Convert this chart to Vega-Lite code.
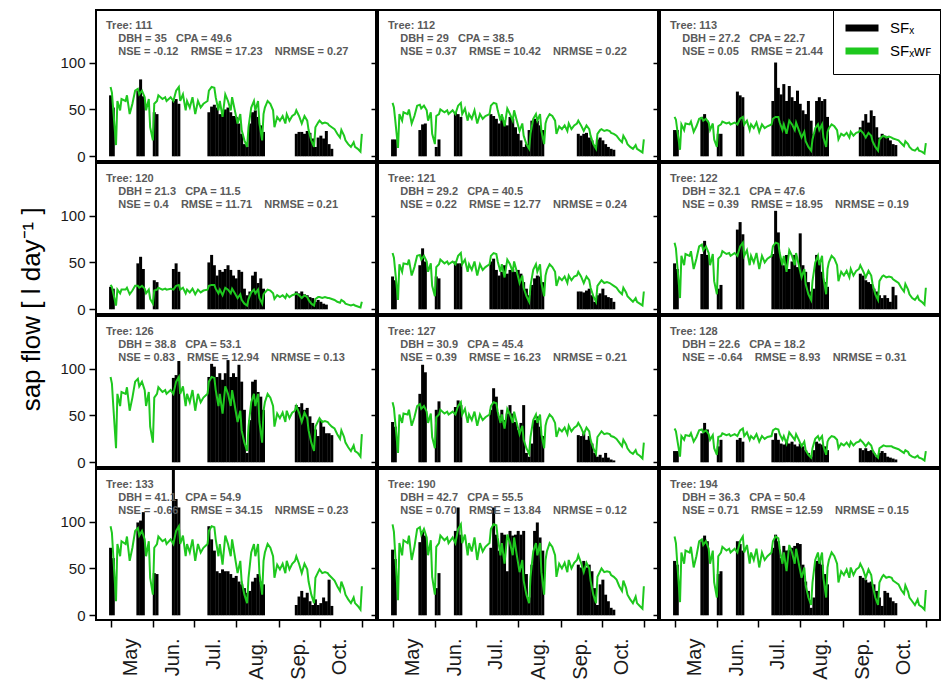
{
"$schema":"https://vega.github.io/schema/vega-lite/v6.json",
"background":"white",
"padding":{"left":18,"top":8,"right":0,"bottom":4},
"title":{"text":"sap flow [ l day\u207b\u00b9 ]","orient":"left","anchor":"middle","frame":"bounds","offset":14,"dx":35,"fontSize":26,"fontWeight":"normal","color":"black","font":"Liberation Sans"},
"bounds":"flush",
"spacing":2,
"columns":3,
"resolve":{"scale":{"color":"independent"},"legend":{"color":"independent"}},
"datasets":{
"t111":[{"d":0,"g":74},{"d":1,"g":68},{"d":2,"g":49},{"d":4,"g":12},{"d":5,"g":59},{"d":7,"g":49},{"d":8,"g":61},{"d":11,"g":59},{"d":12,"g":65},{"d":14,"g":45},{"d":16,"g":56},{"d":18,"g":70},{"d":20,"g":72},{"d":21,"g":66},{"d":23,"g":70},{"d":25,"g":63},{"d":26,"g":49},{"d":28,"g":61},{"d":29,"g":31},{"d":31,"g":17},{"d":32,"g":56},{"d":34,"g":59},{"d":35,"g":65},{"d":38,"g":61},{"d":40,"g":63},{"d":41,"g":59},{"d":44,"g":63},{"d":46,"g":59},{"d":48,"g":70},{"d":50,"g":74},{"d":51,"g":59},{"d":53,"g":66},{"d":55,"g":49},{"d":56,"g":59},{"d":58,"g":52},{"d":60,"g":63},{"d":62,"g":45},{"d":64,"g":59},{"d":66,"g":52},{"d":68,"g":56},{"d":71,"g":59},{"d":72,"g":70},{"d":74,"g":74},{"d":76,"g":73},{"d":77,"g":63},{"d":79,"g":49},{"d":80,"g":59},{"d":82,"g":42},{"d":84,"g":66},{"d":86,"g":59},{"d":88,"g":49},{"d":89,"g":63},{"d":91,"g":49},{"d":93,"g":35},{"d":95,"g":45},{"d":96,"g":28},{"d":98,"g":17},{"d":100,"g":10},{"d":101,"g":31},{"d":103,"g":52},{"d":105,"g":59},{"d":106,"g":49},{"d":108,"g":59},{"d":109,"g":35},{"d":111,"g":17},{"d":112,"g":45},{"d":113,"g":52},{"d":115,"g":59},{"d":117,"g":56},{"d":119,"g":49},{"d":120,"g":31},{"d":122,"g":42},{"d":124,"g":38},{"d":126,"g":43},{"d":128,"g":35},{"d":129,"g":45},{"d":131,"g":38},{"d":133,"g":43},{"d":135,"g":45},{"d":136,"g":49},{"d":138,"g":43},{"d":140,"g":35},{"d":142,"g":43},{"d":144,"g":38},{"d":145,"g":28},{"d":147,"g":17},{"d":149,"g":10},{"d":150,"g":31},{"d":152,"g":36},{"d":153,"g":38},{"d":155,"g":35},{"d":157,"g":36},{"d":159,"g":35},{"d":160,"g":33},{"d":162,"g":31},{"d":164,"g":29},{"d":166,"g":24},{"d":168,"g":20},{"d":169,"g":28},{"d":171,"g":22},{"d":172,"g":17},{"d":174,"g":13},{"d":176,"g":10},{"d":178,"g":15},{"d":179,"g":10},{"d":181,"g":8},{"d":183,"g":5},{"d":184,"g":24},
{"d":0,"b":65},{"d":2,"b":52},{"d":20,"b":70},{"d":22,"b":82},{"d":24,"b":64},{"d":32,"b":47},{"d":34,"b":45},{"d":46,"b":59},{"d":48,"b":61},{"d":50,"b":56},{"d":72,"b":47},{"d":74,"b":53},{"d":76,"b":55},{"d":78,"b":52},{"d":80,"b":45},{"d":82,"b":47},{"d":84,"b":50},{"d":86,"b":52},{"d":88,"b":47},{"d":90,"b":43},{"d":92,"b":42},{"d":94,"b":35},{"d":96,"b":24},{"d":98,"b":13},{"d":100,"b":10},{"d":102,"b":35},{"d":104,"b":47},{"d":106,"b":49},{"d":108,"b":42},{"d":110,"b":33},{"d":112,"b":26},{"d":136,"b":24},{"d":138,"b":26},{"d":140,"b":26},{"d":142,"b":24},{"d":144,"b":27},{"d":146,"b":25},{"d":148,"b":19},{"d":150,"b":10},{"d":152,"b":20},{"d":154,"b":22},{"d":156,"b":19},{"d":158,"b":27},{"d":160,"b":13},{"d":162,"b":8}],
"t112":[{"d":0,"g":57},{"d":1,"g":52},{"d":2,"g":38},{"d":4,"g":9},{"d":5,"g":45},{"d":7,"g":38},{"d":8,"g":47},{"d":11,"g":45},{"d":12,"g":50},{"d":14,"g":35},{"d":16,"g":43},{"d":18,"g":54},{"d":20,"g":55},{"d":21,"g":51},{"d":23,"g":54},{"d":25,"g":49},{"d":26,"g":38},{"d":28,"g":47},{"d":29,"g":24},{"d":31,"g":13},{"d":32,"g":43},{"d":34,"g":45},{"d":35,"g":50},{"d":38,"g":47},{"d":40,"g":49},{"d":41,"g":45},{"d":44,"g":49},{"d":46,"g":45},{"d":48,"g":54},{"d":50,"g":57},{"d":51,"g":45},{"d":53,"g":51},{"d":55,"g":38},{"d":56,"g":45},{"d":58,"g":40},{"d":60,"g":49},{"d":62,"g":35},{"d":64,"g":45},{"d":66,"g":40},{"d":68,"g":43},{"d":71,"g":45},{"d":72,"g":54},{"d":74,"g":57},{"d":76,"g":56},{"d":77,"g":49},{"d":79,"g":38},{"d":80,"g":45},{"d":82,"g":32},{"d":84,"g":51},{"d":86,"g":45},{"d":88,"g":38},{"d":89,"g":49},{"d":91,"g":38},{"d":93,"g":27},{"d":95,"g":35},{"d":96,"g":22},{"d":98,"g":13},{"d":100,"g":8},{"d":101,"g":24},{"d":103,"g":40},{"d":105,"g":45},{"d":106,"g":38},{"d":108,"g":45},{"d":109,"g":27},{"d":111,"g":13},{"d":112,"g":35},{"d":113,"g":40},{"d":115,"g":45},{"d":117,"g":43},{"d":119,"g":38},{"d":120,"g":24},{"d":122,"g":32},{"d":124,"g":29},{"d":126,"g":33},{"d":128,"g":27},{"d":129,"g":35},{"d":131,"g":29},{"d":133,"g":33},{"d":135,"g":35},{"d":136,"g":38},{"d":138,"g":33},{"d":140,"g":27},{"d":142,"g":33},{"d":144,"g":29},{"d":145,"g":22},{"d":147,"g":13},{"d":149,"g":8},{"d":150,"g":24},{"d":152,"g":28},{"d":153,"g":29},{"d":155,"g":27},{"d":157,"g":28},{"d":159,"g":27},{"d":160,"g":25},{"d":162,"g":24},{"d":164,"g":22},{"d":166,"g":18},{"d":168,"g":15},{"d":169,"g":22},{"d":171,"g":17},{"d":172,"g":13},{"d":174,"g":10},{"d":176,"g":8},{"d":178,"g":12},{"d":179,"g":8},{"d":181,"g":6},{"d":183,"g":4},{"d":184,"g":18},
{"d":0,"b":18},{"d":2,"b":18},{"d":20,"b":28},{"d":22,"b":34},{"d":24,"b":35},{"d":32,"b":10},{"d":34,"b":18},{"d":46,"b":47},{"d":48,"b":45},{"d":50,"b":42},{"d":72,"b":45},{"d":74,"b":43},{"d":76,"b":40},{"d":78,"b":35},{"d":80,"b":42},{"d":82,"b":38},{"d":84,"b":33},{"d":86,"b":42},{"d":88,"b":40},{"d":90,"b":31},{"d":92,"b":24},{"d":94,"b":17},{"d":96,"b":10},{"d":98,"b":13},{"d":100,"b":28},{"d":102,"b":38},{"d":104,"b":40},{"d":106,"b":38},{"d":108,"b":33},{"d":110,"b":28},{"d":136,"b":24},{"d":138,"b":22},{"d":140,"b":24},{"d":142,"b":25},{"d":144,"b":20},{"d":146,"b":17},{"d":148,"b":12},{"d":150,"b":18},{"d":152,"b":20},{"d":154,"b":17},{"d":156,"b":13},{"d":158,"b":10},{"d":160,"b":8},{"d":162,"b":7}],
"t113":[{"d":0,"g":42},{"d":1,"g":39},{"d":2,"g":28},{"d":4,"g":7},{"d":5,"g":34},{"d":7,"g":28},{"d":8,"g":35},{"d":11,"g":34},{"d":12,"g":37},{"d":14,"g":26},{"d":16,"g":32},{"d":18,"g":40},{"d":20,"g":41},{"d":21,"g":38},{"d":23,"g":40},{"d":25,"g":36},{"d":26,"g":28},{"d":28,"g":35},{"d":29,"g":18},{"d":31,"g":10},{"d":32,"g":32},{"d":34,"g":34},{"d":35,"g":37},{"d":38,"g":35},{"d":40,"g":36},{"d":41,"g":34},{"d":44,"g":36},{"d":46,"g":34},{"d":48,"g":40},{"d":50,"g":42},{"d":51,"g":34},{"d":53,"g":38},{"d":55,"g":28},{"d":56,"g":34},{"d":58,"g":30},{"d":60,"g":36},{"d":62,"g":26},{"d":64,"g":34},{"d":66,"g":30},{"d":68,"g":32},{"d":71,"g":34},{"d":72,"g":40},{"d":74,"g":42},{"d":76,"g":42},{"d":77,"g":36},{"d":79,"g":28},{"d":80,"g":34},{"d":82,"g":24},{"d":84,"g":38},{"d":86,"g":34},{"d":88,"g":28},{"d":89,"g":36},{"d":91,"g":28},{"d":93,"g":20},{"d":95,"g":26},{"d":96,"g":16},{"d":98,"g":10},{"d":100,"g":6},{"d":101,"g":18},{"d":103,"g":30},{"d":105,"g":34},{"d":106,"g":28},{"d":108,"g":34},{"d":109,"g":20},{"d":111,"g":10},{"d":112,"g":26},{"d":113,"g":30},{"d":115,"g":34},{"d":117,"g":32},{"d":119,"g":28},{"d":120,"g":18},{"d":122,"g":24},{"d":124,"g":22},{"d":126,"g":25},{"d":128,"g":20},{"d":129,"g":26},{"d":131,"g":22},{"d":133,"g":25},{"d":135,"g":26},{"d":136,"g":28},{"d":138,"g":25},{"d":140,"g":20},{"d":142,"g":25},{"d":144,"g":22},{"d":145,"g":16},{"d":147,"g":10},{"d":149,"g":6},{"d":150,"g":18},{"d":152,"g":21},{"d":153,"g":22},{"d":155,"g":20},{"d":157,"g":21},{"d":159,"g":20},{"d":160,"g":19},{"d":162,"g":18},{"d":164,"g":17},{"d":166,"g":14},{"d":168,"g":11},{"d":169,"g":16},{"d":171,"g":13},{"d":172,"g":10},{"d":174,"g":7},{"d":176,"g":6},{"d":178,"g":9},{"d":179,"g":6},{"d":181,"g":5},{"d":183,"g":3},{"d":184,"g":14},
{"d":0,"b":28},{"d":2,"b":28},{"d":20,"b":42},{"d":22,"b":45},{"d":24,"b":38},{"d":32,"b":24},{"d":34,"b":24},{"d":46,"b":69},{"d":48,"b":65},{"d":50,"b":63},{"d":72,"b":59},{"d":74,"b":100},{"d":76,"b":73},{"d":78,"b":66},{"d":80,"b":77},{"d":82,"b":59},{"d":84,"b":75},{"d":86,"b":63},{"d":88,"b":59},{"d":90,"b":70},{"d":92,"b":56},{"d":94,"b":49},{"d":96,"b":45},{"d":98,"b":59},{"d":100,"b":38},{"d":102,"b":24},{"d":104,"b":59},{"d":106,"b":63},{"d":108,"b":59},{"d":110,"b":61},{"d":112,"b":42},{"d":136,"b":31},{"d":138,"b":38},{"d":140,"b":45},{"d":142,"b":36},{"d":144,"b":49},{"d":146,"b":43},{"d":148,"b":31},{"d":150,"b":20},{"d":152,"b":24},{"d":154,"b":22},{"d":156,"b":20},{"d":158,"b":17},{"d":160,"b":13},{"d":162,"b":12}],
"t120":[{"d":0,"g":26},{"d":1,"g":24},{"d":2,"g":17},{"d":4,"g":4},{"d":5,"g":21},{"d":7,"g":17},{"d":8,"g":21},{"d":11,"g":21},{"d":12,"g":23},{"d":14,"g":16},{"d":16,"g":20},{"d":18,"g":25},{"d":20,"g":25},{"d":21,"g":23},{"d":23,"g":25},{"d":25,"g":22},{"d":26,"g":17},{"d":28,"g":21},{"d":29,"g":11},{"d":31,"g":6},{"d":32,"g":20},{"d":34,"g":21},{"d":35,"g":23},{"d":38,"g":21},{"d":40,"g":22},{"d":41,"g":21},{"d":44,"g":22},{"d":46,"g":21},{"d":48,"g":25},{"d":50,"g":26},{"d":51,"g":21},{"d":53,"g":23},{"d":55,"g":17},{"d":56,"g":21},{"d":58,"g":18},{"d":60,"g":22},{"d":62,"g":16},{"d":64,"g":21},{"d":66,"g":18},{"d":68,"g":20},{"d":71,"g":21},{"d":72,"g":25},{"d":74,"g":26},{"d":76,"g":26},{"d":77,"g":22},{"d":79,"g":17},{"d":80,"g":21},{"d":82,"g":15},{"d":84,"g":23},{"d":86,"g":21},{"d":88,"g":17},{"d":89,"g":22},{"d":91,"g":17},{"d":93,"g":12},{"d":95,"g":16},{"d":96,"g":10},{"d":98,"g":6},{"d":100,"g":4},{"d":101,"g":11},{"d":103,"g":18},{"d":105,"g":21},{"d":106,"g":17},{"d":108,"g":21},{"d":109,"g":12},{"d":111,"g":6},{"d":112,"g":16},{"d":113,"g":18},{"d":115,"g":21},{"d":117,"g":20},{"d":119,"g":17},{"d":120,"g":11},{"d":122,"g":15},{"d":124,"g":13},{"d":126,"g":15},{"d":128,"g":12},{"d":129,"g":16},{"d":131,"g":13},{"d":133,"g":15},{"d":135,"g":16},{"d":136,"g":17},{"d":138,"g":15},{"d":140,"g":12},{"d":142,"g":15},{"d":144,"g":13},{"d":145,"g":10},{"d":147,"g":6},{"d":149,"g":4},{"d":150,"g":11},{"d":152,"g":13},{"d":153,"g":13},{"d":155,"g":12},{"d":157,"g":13},{"d":159,"g":12},{"d":160,"g":12},{"d":162,"g":11},{"d":164,"g":10},{"d":166,"g":8},{"d":168,"g":7},{"d":169,"g":10},{"d":171,"g":8},{"d":172,"g":6},{"d":174,"g":5},{"d":176,"g":4},{"d":178,"g":5},{"d":179,"g":4},{"d":181,"g":3},{"d":183,"g":2},{"d":184,"g":8},
{"d":0,"b":24},{"d":2,"b":22},{"d":20,"b":49},{"d":22,"b":56},{"d":24,"b":43},{"d":32,"b":31},{"d":34,"b":29},{"d":46,"b":43},{"d":48,"b":49},{"d":50,"b":40},{"d":72,"b":50},{"d":74,"b":58},{"d":76,"b":47},{"d":78,"b":36},{"d":80,"b":42},{"d":82,"b":40},{"d":84,"b":43},{"d":86,"b":47},{"d":88,"b":42},{"d":90,"b":36},{"d":92,"b":33},{"d":94,"b":42},{"d":96,"b":40},{"d":98,"b":22},{"d":100,"b":15},{"d":102,"b":19},{"d":104,"b":36},{"d":106,"b":40},{"d":108,"b":28},{"d":110,"b":33},{"d":112,"b":22},{"d":136,"b":19},{"d":138,"b":17},{"d":140,"b":19},{"d":142,"b":16},{"d":144,"b":15},{"d":146,"b":13},{"d":148,"b":12},{"d":150,"b":8},{"d":152,"b":10},{"d":154,"b":8},{"d":156,"b":6},{"d":158,"b":5}],
"t121":[{"d":0,"g":60},{"d":1,"g":55},{"d":2,"g":40},{"d":4,"g":10},{"d":5,"g":48},{"d":7,"g":40},{"d":8,"g":49},{"d":11,"g":48},{"d":12,"g":53},{"d":14,"g":36},{"d":16,"g":45},{"d":18,"g":57},{"d":20,"g":58},{"d":21,"g":53},{"d":23,"g":57},{"d":25,"g":51},{"d":26,"g":40},{"d":28,"g":49},{"d":29,"g":25},{"d":31,"g":14},{"d":32,"g":45},{"d":34,"g":48},{"d":35,"g":53},{"d":38,"g":49},{"d":40,"g":51},{"d":41,"g":48},{"d":44,"g":51},{"d":46,"g":48},{"d":48,"g":57},{"d":50,"g":60},{"d":51,"g":48},{"d":53,"g":53},{"d":55,"g":40},{"d":56,"g":48},{"d":58,"g":42},{"d":60,"g":51},{"d":62,"g":36},{"d":64,"g":48},{"d":66,"g":42},{"d":68,"g":45},{"d":71,"g":48},{"d":72,"g":57},{"d":74,"g":60},{"d":76,"g":59},{"d":77,"g":51},{"d":79,"g":40},{"d":80,"g":48},{"d":82,"g":34},{"d":84,"g":53},{"d":86,"g":48},{"d":88,"g":40},{"d":89,"g":51},{"d":91,"g":40},{"d":93,"g":28},{"d":95,"g":36},{"d":96,"g":23},{"d":98,"g":14},{"d":100,"g":8},{"d":101,"g":25},{"d":103,"g":42},{"d":105,"g":48},{"d":106,"g":40},{"d":108,"g":48},{"d":109,"g":28},{"d":111,"g":14},{"d":112,"g":36},{"d":113,"g":42},{"d":115,"g":48},{"d":117,"g":45},{"d":119,"g":40},{"d":120,"g":25},{"d":122,"g":34},{"d":124,"g":31},{"d":126,"g":35},{"d":128,"g":28},{"d":129,"g":36},{"d":131,"g":31},{"d":133,"g":35},{"d":135,"g":36},{"d":136,"g":40},{"d":138,"g":35},{"d":140,"g":28},{"d":142,"g":35},{"d":144,"g":31},{"d":145,"g":23},{"d":147,"g":14},{"d":149,"g":8},{"d":150,"g":25},{"d":152,"g":29},{"d":153,"g":31},{"d":155,"g":28},{"d":157,"g":29},{"d":159,"g":28},{"d":160,"g":27},{"d":162,"g":25},{"d":164,"g":23},{"d":166,"g":19},{"d":168,"g":16},{"d":169,"g":23},{"d":171,"g":18},{"d":172,"g":14},{"d":174,"g":11},{"d":176,"g":8},{"d":178,"g":12},{"d":179,"g":8},{"d":181,"g":6},{"d":183,"g":4},{"d":184,"g":19},
{"d":0,"b":35},{"d":2,"b":31},{"d":20,"b":47},{"d":22,"b":65},{"d":24,"b":51},{"d":32,"b":35},{"d":34,"b":33},{"d":46,"b":51},{"d":48,"b":49},{"d":50,"b":49},{"d":72,"b":51},{"d":74,"b":54},{"d":76,"b":42},{"d":78,"b":36},{"d":80,"b":40},{"d":82,"b":47},{"d":84,"b":38},{"d":86,"b":42},{"d":88,"b":43},{"d":90,"b":40},{"d":92,"b":42},{"d":94,"b":38},{"d":96,"b":29},{"d":98,"b":22},{"d":100,"b":15},{"d":102,"b":26},{"d":104,"b":33},{"d":106,"b":36},{"d":108,"b":35},{"d":110,"b":29},{"d":136,"b":19},{"d":138,"b":19},{"d":140,"b":18},{"d":142,"b":20},{"d":144,"b":22},{"d":146,"b":15},{"d":148,"b":8},{"d":150,"b":15},{"d":152,"b":17},{"d":154,"b":22},{"d":156,"b":15},{"d":158,"b":13},{"d":160,"b":12},{"d":162,"b":8}],
"t122":[{"d":0,"g":71},{"d":1,"g":65},{"d":2,"g":47},{"d":4,"g":12},{"d":5,"g":57},{"d":7,"g":47},{"d":8,"g":59},{"d":11,"g":57},{"d":12,"g":62},{"d":14,"g":43},{"d":16,"g":54},{"d":18,"g":67},{"d":20,"g":69},{"d":21,"g":63},{"d":23,"g":67},{"d":25,"g":60},{"d":26,"g":47},{"d":28,"g":59},{"d":29,"g":30},{"d":31,"g":16},{"d":32,"g":54},{"d":34,"g":57},{"d":35,"g":62},{"d":38,"g":59},{"d":40,"g":60},{"d":41,"g":57},{"d":44,"g":60},{"d":46,"g":57},{"d":48,"g":67},{"d":50,"g":71},{"d":51,"g":57},{"d":53,"g":63},{"d":55,"g":47},{"d":56,"g":57},{"d":58,"g":50},{"d":60,"g":60},{"d":62,"g":43},{"d":64,"g":57},{"d":66,"g":50},{"d":68,"g":54},{"d":71,"g":57},{"d":72,"g":67},{"d":74,"g":71},{"d":76,"g":70},{"d":77,"g":60},{"d":79,"g":47},{"d":80,"g":57},{"d":82,"g":40},{"d":84,"g":63},{"d":86,"g":57},{"d":88,"g":47},{"d":89,"g":60},{"d":91,"g":47},{"d":93,"g":34},{"d":95,"g":43},{"d":96,"g":27},{"d":98,"g":16},{"d":100,"g":10},{"d":101,"g":30},{"d":103,"g":50},{"d":105,"g":57},{"d":106,"g":47},{"d":108,"g":57},{"d":109,"g":34},{"d":111,"g":16},{"d":112,"g":43},{"d":113,"g":50},{"d":115,"g":57},{"d":117,"g":54},{"d":119,"g":47},{"d":120,"g":30},{"d":122,"g":40},{"d":124,"g":36},{"d":126,"g":41},{"d":128,"g":34},{"d":129,"g":43},{"d":131,"g":36},{"d":133,"g":41},{"d":135,"g":43},{"d":136,"g":47},{"d":138,"g":41},{"d":140,"g":34},{"d":142,"g":41},{"d":144,"g":36},{"d":145,"g":27},{"d":147,"g":16},{"d":149,"g":10},{"d":150,"g":30},{"d":152,"g":35},{"d":153,"g":36},{"d":155,"g":34},{"d":157,"g":35},{"d":159,"g":34},{"d":160,"g":32},{"d":162,"g":30},{"d":164,"g":28},{"d":166,"g":23},{"d":168,"g":19},{"d":169,"g":27},{"d":171,"g":21},{"d":172,"g":16},{"d":174,"g":12},{"d":176,"g":10},{"d":178,"g":14},{"d":179,"g":10},{"d":181,"g":8},{"d":183,"g":5},{"d":184,"g":23},
{"d":0,"b":49},{"d":2,"b":43},{"d":20,"b":59},{"d":22,"b":73},{"d":24,"b":58},{"d":32,"b":22},{"d":34,"b":26},{"d":46,"b":85},{"d":48,"b":93},{"d":50,"b":80},{"d":72,"b":59},{"d":74,"b":105},{"d":76,"b":82},{"d":78,"b":54},{"d":80,"b":47},{"d":82,"b":58},{"d":84,"b":43},{"d":86,"b":51},{"d":88,"b":58},{"d":90,"b":45},{"d":92,"b":81},{"d":94,"b":47},{"d":96,"b":40},{"d":98,"b":29},{"d":100,"b":19},{"d":102,"b":22},{"d":104,"b":58},{"d":106,"b":51},{"d":108,"b":40},{"d":110,"b":29},{"d":112,"b":24},{"d":136,"b":38},{"d":138,"b":36},{"d":140,"b":31},{"d":142,"b":29},{"d":144,"b":27},{"d":146,"b":22},{"d":148,"b":19},{"d":150,"b":15},{"d":152,"b":12},{"d":154,"b":15},{"d":156,"b":12},{"d":158,"b":8},{"d":160,"b":24},{"d":162,"b":15}],
"t126":[{"d":0,"g":91},{"d":1,"g":84},{"d":2,"g":60},{"d":4,"g":15},{"d":5,"g":73},{"d":7,"g":60},{"d":8,"g":75},{"d":11,"g":73},{"d":12,"g":80},{"d":14,"g":55},{"d":16,"g":69},{"d":18,"g":86},{"d":20,"g":89},{"d":21,"g":81},{"d":23,"g":86},{"d":25,"g":77},{"d":26,"g":60},{"d":28,"g":75},{"d":29,"g":38},{"d":31,"g":21},{"d":32,"g":69},{"d":34,"g":73},{"d":35,"g":80},{"d":38,"g":75},{"d":40,"g":77},{"d":41,"g":73},{"d":44,"g":77},{"d":46,"g":73},{"d":48,"g":86},{"d":50,"g":91},{"d":51,"g":73},{"d":53,"g":81},{"d":55,"g":60},{"d":56,"g":73},{"d":58,"g":64},{"d":60,"g":77},{"d":62,"g":55},{"d":64,"g":73},{"d":66,"g":64},{"d":68,"g":69},{"d":71,"g":73},{"d":72,"g":86},{"d":74,"g":91},{"d":76,"g":90},{"d":77,"g":77},{"d":79,"g":60},{"d":80,"g":73},{"d":82,"g":52},{"d":84,"g":81},{"d":86,"g":73},{"d":88,"g":60},{"d":89,"g":77},{"d":91,"g":60},{"d":93,"g":43},{"d":95,"g":55},{"d":96,"g":34},{"d":98,"g":21},{"d":100,"g":12},{"d":101,"g":38},{"d":103,"g":64},{"d":105,"g":73},{"d":106,"g":60},{"d":108,"g":73},{"d":109,"g":43},{"d":111,"g":21},{"d":112,"g":55},{"d":113,"g":64},{"d":115,"g":73},{"d":117,"g":69},{"d":119,"g":60},{"d":120,"g":38},{"d":122,"g":52},{"d":124,"g":47},{"d":126,"g":53},{"d":128,"g":43},{"d":129,"g":55},{"d":131,"g":47},{"d":133,"g":53},{"d":135,"g":55},{"d":136,"g":60},{"d":138,"g":53},{"d":140,"g":43},{"d":142,"g":53},{"d":144,"g":47},{"d":145,"g":34},{"d":147,"g":21},{"d":149,"g":12},{"d":150,"g":38},{"d":152,"g":44},{"d":153,"g":47},{"d":155,"g":43},{"d":157,"g":44},{"d":159,"g":43},{"d":160,"g":41},{"d":162,"g":38},{"d":164,"g":36},{"d":166,"g":30},{"d":168,"g":25},{"d":169,"g":34},{"d":171,"g":27},{"d":172,"g":21},{"d":174,"g":16},{"d":176,"g":12},{"d":178,"g":18},{"d":179,"g":12},{"d":181,"g":10},{"d":183,"g":6},{"d":184,"g":30},
{"d":46,"b":90},{"d":48,"b":93},{"d":50,"b":108},{"d":72,"b":91},{"d":74,"b":105},{"d":76,"b":102},{"d":78,"b":91},{"d":80,"b":95},{"d":82,"b":88},{"d":84,"b":95},{"d":86,"b":109},{"d":88,"b":91},{"d":90,"b":95},{"d":92,"b":91},{"d":94,"b":104},{"d":96,"b":86},{"d":98,"b":56},{"d":100,"b":10},{"d":102,"b":45},{"d":104,"b":86},{"d":106,"b":88},{"d":108,"b":75},{"d":110,"b":70},{"d":112,"b":56},{"d":136,"b":61},{"d":138,"b":59},{"d":140,"b":63},{"d":142,"b":56},{"d":144,"b":58},{"d":146,"b":49},{"d":148,"b":42},{"d":150,"b":35},{"d":152,"b":28},{"d":154,"b":45},{"d":156,"b":38},{"d":158,"b":31},{"d":160,"b":31},{"d":162,"b":29}],
"t127":[{"d":0,"g":64},{"d":1,"g":58},{"d":2,"g":42},{"d":4,"g":10},{"d":5,"g":51},{"d":7,"g":42},{"d":8,"g":52},{"d":11,"g":51},{"d":12,"g":56},{"d":14,"g":39},{"d":16,"g":48},{"d":18,"g":60},{"d":20,"g":62},{"d":21,"g":57},{"d":23,"g":60},{"d":25,"g":54},{"d":26,"g":42},{"d":28,"g":52},{"d":29,"g":27},{"d":31,"g":15},{"d":32,"g":48},{"d":34,"g":51},{"d":35,"g":56},{"d":38,"g":52},{"d":40,"g":54},{"d":41,"g":51},{"d":44,"g":54},{"d":46,"g":51},{"d":48,"g":60},{"d":50,"g":64},{"d":51,"g":51},{"d":53,"g":57},{"d":55,"g":42},{"d":56,"g":51},{"d":58,"g":45},{"d":60,"g":54},{"d":62,"g":39},{"d":64,"g":51},{"d":66,"g":45},{"d":68,"g":48},{"d":71,"g":51},{"d":72,"g":60},{"d":74,"g":64},{"d":76,"g":63},{"d":77,"g":54},{"d":79,"g":42},{"d":80,"g":51},{"d":82,"g":36},{"d":84,"g":57},{"d":86,"g":51},{"d":88,"g":42},{"d":89,"g":54},{"d":91,"g":42},{"d":93,"g":30},{"d":95,"g":39},{"d":96,"g":24},{"d":98,"g":15},{"d":100,"g":9},{"d":101,"g":27},{"d":103,"g":45},{"d":105,"g":51},{"d":106,"g":42},{"d":108,"g":51},{"d":109,"g":30},{"d":111,"g":15},{"d":112,"g":39},{"d":113,"g":45},{"d":115,"g":51},{"d":117,"g":48},{"d":119,"g":42},{"d":120,"g":27},{"d":122,"g":36},{"d":124,"g":33},{"d":126,"g":37},{"d":128,"g":30},{"d":129,"g":39},{"d":131,"g":33},{"d":133,"g":37},{"d":135,"g":39},{"d":136,"g":42},{"d":138,"g":37},{"d":140,"g":30},{"d":142,"g":37},{"d":144,"g":33},{"d":145,"g":24},{"d":147,"g":15},{"d":149,"g":9},{"d":150,"g":27},{"d":152,"g":31},{"d":153,"g":33},{"d":155,"g":30},{"d":157,"g":31},{"d":159,"g":30},{"d":160,"g":28},{"d":162,"g":27},{"d":164,"g":25},{"d":166,"g":21},{"d":168,"g":17},{"d":169,"g":24},{"d":171,"g":19},{"d":172,"g":15},{"d":174,"g":11},{"d":176,"g":9},{"d":178,"g":13},{"d":179,"g":9},{"d":181,"g":7},{"d":183,"g":4},{"d":184,"g":21},
{"d":0,"b":43},{"d":2,"b":38},{"d":20,"b":73},{"d":22,"b":104},{"d":24,"b":96},{"d":32,"b":56},{"d":34,"b":65},{"d":46,"b":59},{"d":48,"b":66},{"d":50,"b":61},{"d":72,"b":56},{"d":74,"b":79},{"d":76,"b":70},{"d":78,"b":49},{"d":80,"b":56},{"d":82,"b":45},{"d":84,"b":52},{"d":86,"b":61},{"d":88,"b":52},{"d":90,"b":43},{"d":92,"b":35},{"d":94,"b":42},{"d":96,"b":61},{"d":98,"b":10},{"d":100,"b":6},{"d":102,"b":20},{"d":104,"b":45},{"d":106,"b":49},{"d":108,"b":38},{"d":110,"b":28},{"d":136,"b":29},{"d":138,"b":28},{"d":140,"b":31},{"d":142,"b":24},{"d":144,"b":28},{"d":146,"b":20},{"d":148,"b":10},{"d":150,"b":6},{"d":152,"b":8},{"d":154,"b":5},{"d":156,"b":10},{"d":158,"b":5},{"d":160,"b":3},{"d":162,"b":2}],
"t128":[{"d":0,"g":36},{"d":1,"g":33},{"d":2,"g":24},{"d":4,"g":6},{"d":5,"g":28},{"d":7,"g":24},{"d":8,"g":29},{"d":11,"g":28},{"d":12,"g":31},{"d":14,"g":22},{"d":16,"g":27},{"d":18,"g":34},{"d":20,"g":35},{"d":21,"g":32},{"d":23,"g":34},{"d":25,"g":30},{"d":26,"g":24},{"d":28,"g":29},{"d":29,"g":15},{"d":31,"g":8},{"d":32,"g":27},{"d":34,"g":28},{"d":35,"g":31},{"d":38,"g":29},{"d":40,"g":30},{"d":41,"g":28},{"d":44,"g":30},{"d":46,"g":28},{"d":48,"g":34},{"d":50,"g":36},{"d":51,"g":28},{"d":53,"g":32},{"d":55,"g":24},{"d":56,"g":28},{"d":58,"g":25},{"d":60,"g":30},{"d":62,"g":22},{"d":64,"g":28},{"d":66,"g":25},{"d":68,"g":27},{"d":71,"g":28},{"d":72,"g":34},{"d":74,"g":36},{"d":76,"g":35},{"d":77,"g":30},{"d":79,"g":24},{"d":80,"g":28},{"d":82,"g":20},{"d":84,"g":32},{"d":86,"g":28},{"d":88,"g":24},{"d":89,"g":30},{"d":91,"g":24},{"d":93,"g":17},{"d":95,"g":22},{"d":96,"g":13},{"d":98,"g":8},{"d":100,"g":5},{"d":101,"g":15},{"d":103,"g":25},{"d":105,"g":28},{"d":106,"g":24},{"d":108,"g":28},{"d":109,"g":17},{"d":111,"g":8},{"d":112,"g":22},{"d":113,"g":25},{"d":115,"g":28},{"d":117,"g":27},{"d":119,"g":24},{"d":120,"g":15},{"d":122,"g":20},{"d":124,"g":18},{"d":126,"g":21},{"d":128,"g":17},{"d":129,"g":22},{"d":131,"g":18},{"d":133,"g":21},{"d":135,"g":22},{"d":136,"g":24},{"d":138,"g":21},{"d":140,"g":17},{"d":142,"g":21},{"d":144,"g":18},{"d":145,"g":13},{"d":147,"g":8},{"d":149,"g":5},{"d":150,"g":15},{"d":152,"g":17},{"d":153,"g":18},{"d":155,"g":17},{"d":157,"g":17},{"d":159,"g":17},{"d":160,"g":16},{"d":162,"g":15},{"d":164,"g":14},{"d":166,"g":12},{"d":168,"g":10},{"d":169,"g":13},{"d":171,"g":11},{"d":172,"g":8},{"d":174,"g":6},{"d":176,"g":5},{"d":178,"g":7},{"d":179,"g":5},{"d":181,"g":4},{"d":183,"g":2},{"d":184,"g":12},
{"d":0,"b":12},{"d":2,"b":12},{"d":20,"b":31},{"d":22,"b":42},{"d":24,"b":35},{"d":32,"b":17},{"d":34,"b":24},{"d":46,"b":24},{"d":48,"b":26},{"d":50,"b":22},{"d":72,"b":24},{"d":74,"b":31},{"d":76,"b":24},{"d":78,"b":20},{"d":80,"b":19},{"d":82,"b":24},{"d":84,"b":20},{"d":86,"b":22},{"d":88,"b":19},{"d":90,"b":17},{"d":92,"b":20},{"d":94,"b":17},{"d":96,"b":13},{"d":98,"b":10},{"d":100,"b":6},{"d":102,"b":13},{"d":104,"b":22},{"d":106,"b":20},{"d":108,"b":19},{"d":110,"b":17},{"d":112,"b":13},{"d":136,"b":15},{"d":138,"b":13},{"d":140,"b":15},{"d":142,"b":12},{"d":144,"b":13},{"d":146,"b":10},{"d":148,"b":6},{"d":150,"b":10},{"d":152,"b":12},{"d":154,"b":10},{"d":156,"b":6},{"d":158,"b":5},{"d":160,"b":4},{"d":162,"b":3}],
"t133":[{"d":0,"g":95},{"d":1,"g":88},{"d":2,"g":63},{"d":4,"g":15},{"d":5,"g":76},{"d":7,"g":63},{"d":8,"g":79},{"d":11,"g":76},{"d":12,"g":84},{"d":14,"g":58},{"d":16,"g":72},{"d":18,"g":90},{"d":20,"g":93},{"d":21,"g":85},{"d":23,"g":90},{"d":25,"g":81},{"d":26,"g":63},{"d":28,"g":79},{"d":29,"g":40},{"d":31,"g":22},{"d":32,"g":72},{"d":34,"g":76},{"d":35,"g":84},{"d":38,"g":79},{"d":40,"g":81},{"d":41,"g":76},{"d":44,"g":81},{"d":46,"g":76},{"d":48,"g":90},{"d":50,"g":95},{"d":51,"g":76},{"d":53,"g":85},{"d":55,"g":63},{"d":56,"g":76},{"d":58,"g":67},{"d":60,"g":81},{"d":62,"g":58},{"d":64,"g":76},{"d":66,"g":67},{"d":68,"g":72},{"d":71,"g":76},{"d":72,"g":90},{"d":74,"g":95},{"d":76,"g":94},{"d":77,"g":81},{"d":79,"g":63},{"d":80,"g":76},{"d":82,"g":54},{"d":84,"g":85},{"d":86,"g":76},{"d":88,"g":63},{"d":89,"g":81},{"d":91,"g":63},{"d":93,"g":45},{"d":95,"g":58},{"d":96,"g":36},{"d":98,"g":22},{"d":100,"g":13},{"d":101,"g":40},{"d":103,"g":67},{"d":105,"g":76},{"d":106,"g":63},{"d":108,"g":76},{"d":109,"g":45},{"d":111,"g":22},{"d":112,"g":58},{"d":113,"g":67},{"d":115,"g":76},{"d":117,"g":72},{"d":119,"g":63},{"d":120,"g":40},{"d":122,"g":54},{"d":124,"g":49},{"d":126,"g":55},{"d":128,"g":45},{"d":129,"g":58},{"d":131,"g":49},{"d":133,"g":55},{"d":135,"g":58},{"d":136,"g":63},{"d":138,"g":55},{"d":140,"g":45},{"d":142,"g":55},{"d":144,"g":49},{"d":145,"g":36},{"d":147,"g":22},{"d":149,"g":13},{"d":150,"g":40},{"d":152,"g":46},{"d":153,"g":49},{"d":155,"g":45},{"d":157,"g":46},{"d":159,"g":45},{"d":160,"g":43},{"d":162,"g":40},{"d":164,"g":37},{"d":166,"g":31},{"d":168,"g":26},{"d":169,"g":36},{"d":171,"g":28},{"d":172,"g":22},{"d":174,"g":17},{"d":176,"g":13},{"d":178,"g":19},{"d":179,"g":13},{"d":181,"g":10},{"d":183,"g":6},{"d":184,"g":31},
{"d":0,"b":72},{"d":2,"b":61},{"d":20,"b":99},{"d":22,"b":101},{"d":24,"b":110},{"d":32,"b":45},{"d":34,"b":44},{"d":46,"b":160},{"d":48,"b":124},{"d":50,"b":115},{"d":72,"b":95},{"d":74,"b":81},{"d":76,"b":69},{"d":78,"b":47},{"d":80,"b":45},{"d":82,"b":49},{"d":84,"b":47},{"d":86,"b":47},{"d":88,"b":44},{"d":90,"b":40},{"d":92,"b":42},{"d":94,"b":36},{"d":96,"b":33},{"d":98,"b":29},{"d":100,"b":24},{"d":102,"b":26},{"d":104,"b":36},{"d":106,"b":40},{"d":108,"b":44},{"d":110,"b":36},{"d":112,"b":33},{"d":136,"b":11},{"d":138,"b":20},{"d":140,"b":26},{"d":142,"b":19},{"d":144,"b":24},{"d":146,"b":15},{"d":148,"b":11},{"d":150,"b":17},{"d":152,"b":11},{"d":154,"b":13},{"d":156,"b":19},{"d":158,"b":15},{"d":160,"b":38},{"d":162,"b":10}],
"t190":[{"d":0,"g":97},{"d":1,"g":89},{"d":2,"g":64},{"d":4,"g":16},{"d":5,"g":77},{"d":7,"g":64},{"d":8,"g":80},{"d":11,"g":77},{"d":12,"g":85},{"d":14,"g":59},{"d":16,"g":73},{"d":18,"g":92},{"d":20,"g":94},{"d":21,"g":86},{"d":23,"g":92},{"d":25,"g":83},{"d":26,"g":64},{"d":28,"g":80},{"d":29,"g":41},{"d":31,"g":22},{"d":32,"g":73},{"d":34,"g":77},{"d":35,"g":85},{"d":38,"g":80},{"d":40,"g":83},{"d":41,"g":77},{"d":44,"g":83},{"d":46,"g":77},{"d":48,"g":92},{"d":50,"g":97},{"d":51,"g":77},{"d":53,"g":86},{"d":55,"g":64},{"d":56,"g":77},{"d":58,"g":68},{"d":60,"g":83},{"d":62,"g":59},{"d":64,"g":77},{"d":66,"g":68},{"d":68,"g":73},{"d":71,"g":77},{"d":72,"g":92},{"d":74,"g":97},{"d":76,"g":96},{"d":77,"g":83},{"d":79,"g":64},{"d":80,"g":77},{"d":82,"g":55},{"d":84,"g":86},{"d":86,"g":77},{"d":88,"g":64},{"d":89,"g":83},{"d":91,"g":64},{"d":93,"g":46},{"d":95,"g":59},{"d":96,"g":37},{"d":98,"g":22},{"d":100,"g":13},{"d":101,"g":41},{"d":103,"g":68},{"d":105,"g":77},{"d":106,"g":64},{"d":108,"g":77},{"d":109,"g":46},{"d":111,"g":22},{"d":112,"g":59},{"d":113,"g":68},{"d":115,"g":77},{"d":117,"g":73},{"d":119,"g":64},{"d":120,"g":41},{"d":122,"g":55},{"d":124,"g":50},{"d":126,"g":56},{"d":128,"g":46},{"d":129,"g":59},{"d":131,"g":50},{"d":133,"g":56},{"d":135,"g":59},{"d":136,"g":64},{"d":138,"g":56},{"d":140,"g":46},{"d":142,"g":56},{"d":144,"g":50},{"d":145,"g":37},{"d":147,"g":22},{"d":149,"g":13},{"d":150,"g":41},{"d":152,"g":47},{"d":153,"g":50},{"d":155,"g":46},{"d":157,"g":47},{"d":159,"g":46},{"d":160,"g":43},{"d":162,"g":41},{"d":164,"g":38},{"d":166,"g":31},{"d":168,"g":26},{"d":169,"g":37},{"d":171,"g":29},{"d":172,"g":22},{"d":174,"g":17},{"d":176,"g":13},{"d":178,"g":20},{"d":179,"g":13},{"d":181,"g":10},{"d":183,"g":7},{"d":184,"g":31},
{"d":0,"b":70},{"d":2,"b":60},{"d":20,"b":78},{"d":22,"b":90},{"d":24,"b":85},{"d":32,"b":29},{"d":34,"b":45},{"d":46,"b":90},{"d":48,"b":115},{"d":50,"b":86},{"d":72,"b":72},{"d":74,"b":115},{"d":76,"b":86},{"d":78,"b":69},{"d":80,"b":88},{"d":82,"b":86},{"d":84,"b":47},{"d":86,"b":90},{"d":88,"b":85},{"d":90,"b":86},{"d":92,"b":90},{"d":94,"b":86},{"d":96,"b":90},{"d":98,"b":44},{"d":100,"b":19},{"d":102,"b":54},{"d":104,"b":90},{"d":106,"b":99},{"d":108,"b":83},{"d":110,"b":69},{"d":136,"b":54},{"d":138,"b":51},{"d":140,"b":58},{"d":142,"b":51},{"d":144,"b":54},{"d":146,"b":47},{"d":148,"b":29},{"d":150,"b":11},{"d":152,"b":33},{"d":154,"b":38},{"d":156,"b":22},{"d":158,"b":15},{"d":160,"b":8},{"d":162,"b":6}],
"t194":[{"d":0,"g":84},{"d":1,"g":77},{"d":2,"g":55},{"d":4,"g":14},{"d":5,"g":67},{"d":7,"g":55},{"d":8,"g":69},{"d":11,"g":67},{"d":12,"g":73},{"d":14,"g":51},{"d":16,"g":63},{"d":18,"g":79},{"d":20,"g":81},{"d":21,"g":75},{"d":23,"g":79},{"d":25,"g":71},{"d":26,"g":55},{"d":28,"g":69},{"d":29,"g":35},{"d":31,"g":19},{"d":32,"g":63},{"d":34,"g":67},{"d":35,"g":73},{"d":38,"g":69},{"d":40,"g":71},{"d":41,"g":67},{"d":44,"g":71},{"d":46,"g":67},{"d":48,"g":79},{"d":50,"g":84},{"d":51,"g":67},{"d":53,"g":75},{"d":55,"g":55},{"d":56,"g":67},{"d":58,"g":59},{"d":60,"g":71},{"d":62,"g":51},{"d":64,"g":67},{"d":66,"g":59},{"d":68,"g":63},{"d":71,"g":67},{"d":72,"g":79},{"d":74,"g":84},{"d":76,"g":82},{"d":77,"g":71},{"d":79,"g":55},{"d":80,"g":67},{"d":82,"g":47},{"d":84,"g":75},{"d":86,"g":67},{"d":88,"g":55},{"d":89,"g":71},{"d":91,"g":55},{"d":93,"g":40},{"d":95,"g":51},{"d":96,"g":32},{"d":98,"g":19},{"d":100,"g":11},{"d":101,"g":35},{"d":103,"g":59},{"d":105,"g":67},{"d":106,"g":55},{"d":108,"g":67},{"d":109,"g":40},{"d":111,"g":19},{"d":112,"g":51},{"d":113,"g":59},{"d":115,"g":67},{"d":117,"g":63},{"d":119,"g":55},{"d":120,"g":35},{"d":122,"g":47},{"d":124,"g":43},{"d":126,"g":49},{"d":128,"g":40},{"d":129,"g":51},{"d":131,"g":43},{"d":133,"g":49},{"d":135,"g":51},{"d":136,"g":55},{"d":138,"g":49},{"d":140,"g":40},{"d":142,"g":49},{"d":144,"g":43},{"d":145,"g":32},{"d":147,"g":19},{"d":149,"g":11},{"d":150,"g":35},{"d":152,"g":41},{"d":153,"g":43},{"d":155,"g":40},{"d":157,"g":41},{"d":159,"g":40},{"d":160,"g":37},{"d":162,"g":35},{"d":164,"g":33},{"d":166,"g":27},{"d":168,"g":23},{"d":169,"g":32},{"d":171,"g":25},{"d":172,"g":19},{"d":174,"g":15},{"d":176,"g":11},{"d":178,"g":17},{"d":179,"g":11},{"d":181,"g":9},{"d":183,"g":6},{"d":184,"g":27},
{"d":0,"b":58},{"d":2,"b":54},{"d":20,"b":79},{"d":22,"b":85},{"d":24,"b":79},{"d":32,"b":44},{"d":34,"b":47},{"d":46,"b":79},{"d":48,"b":76},{"d":50,"b":69},{"d":72,"b":72},{"d":74,"b":86},{"d":76,"b":79},{"d":78,"b":61},{"d":80,"b":74},{"d":82,"b":69},{"d":84,"b":70},{"d":86,"b":72},{"d":88,"b":74},{"d":90,"b":77},{"d":92,"b":76},{"d":94,"b":54},{"d":96,"b":36},{"d":98,"b":26},{"d":100,"b":8},{"d":102,"b":19},{"d":104,"b":58},{"d":106,"b":60},{"d":108,"b":54},{"d":110,"b":44},{"d":112,"b":33},{"d":136,"b":42},{"d":138,"b":40},{"d":140,"b":38},{"d":142,"b":35},{"d":144,"b":36},{"d":146,"b":33},{"d":148,"b":26},{"d":150,"b":19},{"d":152,"b":10},{"d":154,"b":26},{"d":156,"b":24},{"d":158,"b":19},{"d":160,"b":15},{"d":162,"b":13}]
},
"concat":[
{"width":280,"height":151,"data":{"name":"t111"},"title":{"text":"Tree: 111","subtitle":["\u200b\u00a0\u00a0\u00a0\u00a0DBH = 35\u00a0\u00a0\u00a0CPA = 49.6","\u200b\u00a0\u00a0\u00a0\u00a0NSE = -0.12\u00a0\u00a0\u00a0\u00a0RMSE = 17.23\u00a0\u00a0\u00a0\u00a0NRMSE = 0.27"]},
"layer":[{"transform":[{"filter":"isValid(datum.b)"}],"mark":{"type":"bar","color":"black","width":3,"clip":true},"encoding":{"x":{"field":"d","type":"quantitative","scale":{"domain":[-7,190.7],"nice":false,"zero":false},"axis":null},"y":{"field":"b","type":"quantitative","title":null,"scale":{"domain":[-5,156],"nice":false},"axis":{"values":[0,50,100]}}}},
{"transform":[{"filter":"isValid(datum.g)"}],"mark":{"type":"line","color":"#1ec81e","strokeWidth":2},"encoding":{"x":{"field":"d","type":"quantitative"},"y":{"field":"g","type":"quantitative","title":null}}}]},
{"width":280,"height":151,"data":{"name":"t112"},"title":{"text":"Tree: 112","subtitle":["\u200b\u00a0\u00a0\u00a0\u00a0DBH = 29\u00a0\u00a0\u00a0CPA = 38.5","\u200b\u00a0\u00a0\u00a0\u00a0NSE = 0.37\u00a0\u00a0\u00a0\u00a0RMSE = 10.42\u00a0\u00a0\u00a0\u00a0NRMSE = 0.22"]},
"layer":[{"transform":[{"filter":"isValid(datum.b)"}],"mark":{"type":"bar","color":"black","width":3,"clip":true},"encoding":{"x":{"field":"d","type":"quantitative","scale":{"domain":[-7,190.7],"nice":false,"zero":false},"axis":null},"y":{"field":"b","type":"quantitative","title":null,"scale":{"domain":[-5,156],"nice":false},"axis":{"values":[0,50,100],"labels":false}}}},
{"transform":[{"filter":"isValid(datum.g)"}],"mark":{"type":"line","color":"#1ec81e","strokeWidth":2},"encoding":{"x":{"field":"d","type":"quantitative"},"y":{"field":"g","type":"quantitative","title":null}}}]},
{"width":280,"height":151,"data":{"name":"t113"},"title":{"text":"Tree: 113","subtitle":["\u200b\u00a0\u00a0\u00a0\u00a0DBH = 27.2\u00a0\u00a0\u00a0CPA = 22.7","\u200b\u00a0\u00a0\u00a0\u00a0NSE = 0.05\u00a0\u00a0\u00a0\u00a0RMSE = 21.44"]},
"layer":[{"transform":[{"filter":"isValid(datum.b)"}],"mark":{"type":"bar","color":"black","width":3,"clip":true},"encoding":{"x":{"field":"d","type":"quantitative","scale":{"domain":[-7,190.7],"nice":false,"zero":false},"axis":null},"y":{"field":"b","type":"quantitative","title":null,"scale":{"domain":[-5,156],"nice":false},"axis":{"values":[0,50,100],"labels":false}}}},
{"transform":[{"filter":"isValid(datum.g)"}],"mark":{"type":"line","strokeWidth":2},"encoding":{"x":{"field":"d","type":"quantitative"},"y":{"field":"g","type":"quantitative","title":null},"color":{"datum":"SF\u2093\u1d21\ua730","scale":{"domain":["SF\u2093","SF\u2093\u1d21\ua730"],"range":["black","#1ec81e"]},"legend":{"orient":"top-right","offset":0,"title":null,"strokeColor":"black","fillColor":"white","padding":9,"symbolType":"M-3,0H3","symbolSize":121,"symbolStrokeWidth":7,"symbolOffset":11,"labelOffset":19,"labelFontSize":15,"labelFont":"Liberation Sans","labelColor":"black","rowPadding":-15}}}}]},
{"width":280,"height":151,"data":{"name":"t120"},"title":{"text":"Tree: 120","subtitle":["\u200b\u00a0\u00a0\u00a0\u00a0DBH = 21.3\u00a0\u00a0\u00a0CPA = 11.5","\u200b\u00a0\u00a0\u00a0\u00a0NSE = 0.4\u00a0\u00a0\u00a0\u00a0RMSE = 11.71\u00a0\u00a0\u00a0\u00a0NRMSE = 0.21"]},
"layer":[{"transform":[{"filter":"isValid(datum.b)"}],"mark":{"type":"bar","color":"black","width":3,"clip":true},"encoding":{"x":{"field":"d","type":"quantitative","scale":{"domain":[-7,190.7],"nice":false,"zero":false},"axis":null},"y":{"field":"b","type":"quantitative","title":null,"scale":{"domain":[-5,156],"nice":false},"axis":{"values":[0,50,100]}}}},
{"transform":[{"filter":"isValid(datum.g)"}],"mark":{"type":"line","color":"#1ec81e","strokeWidth":2},"encoding":{"x":{"field":"d","type":"quantitative"},"y":{"field":"g","type":"quantitative","title":null}}}]},
{"width":280,"height":151,"data":{"name":"t121"},"title":{"text":"Tree: 121","subtitle":["\u200b\u00a0\u00a0\u00a0\u00a0DBH = 29.2\u00a0\u00a0\u00a0CPA = 40.5","\u200b\u00a0\u00a0\u00a0\u00a0NSE = 0.22\u00a0\u00a0\u00a0\u00a0RMSE = 12.77\u00a0\u00a0\u00a0\u00a0NRMSE = 0.24"]},
"layer":[{"transform":[{"filter":"isValid(datum.b)"}],"mark":{"type":"bar","color":"black","width":3,"clip":true},"encoding":{"x":{"field":"d","type":"quantitative","scale":{"domain":[-7,190.7],"nice":false,"zero":false},"axis":null},"y":{"field":"b","type":"quantitative","title":null,"scale":{"domain":[-5,156],"nice":false},"axis":{"values":[0,50,100],"labels":false}}}},
{"transform":[{"filter":"isValid(datum.g)"}],"mark":{"type":"line","color":"#1ec81e","strokeWidth":2},"encoding":{"x":{"field":"d","type":"quantitative"},"y":{"field":"g","type":"quantitative","title":null}}}]},
{"width":280,"height":151,"data":{"name":"t122"},"title":{"text":"Tree: 122","subtitle":["\u200b\u00a0\u00a0\u00a0\u00a0DBH = 32.1\u00a0\u00a0\u00a0CPA = 47.6","\u200b\u00a0\u00a0\u00a0\u00a0NSE = 0.39\u00a0\u00a0\u00a0\u00a0RMSE = 18.95\u00a0\u00a0\u00a0\u00a0NRMSE = 0.19"]},
"layer":[{"transform":[{"filter":"isValid(datum.b)"}],"mark":{"type":"bar","color":"black","width":3,"clip":true},"encoding":{"x":{"field":"d","type":"quantitative","scale":{"domain":[-7,190.7],"nice":false,"zero":false},"axis":null},"y":{"field":"b","type":"quantitative","title":null,"scale":{"domain":[-5,156],"nice":false},"axis":{"values":[0,50,100],"labels":false}}}},
{"transform":[{"filter":"isValid(datum.g)"}],"mark":{"type":"line","color":"#1ec81e","strokeWidth":2},"encoding":{"x":{"field":"d","type":"quantitative"},"y":{"field":"g","type":"quantitative","title":null}}}]},
{"width":280,"height":151,"data":{"name":"t126"},"title":{"text":"Tree: 126","subtitle":["\u200b\u00a0\u00a0\u00a0\u00a0DBH = 38.8\u00a0\u00a0\u00a0CPA = 53.1","\u200b\u00a0\u00a0\u00a0\u00a0NSE = 0.83\u00a0\u00a0\u00a0\u00a0RMSE = 12.94\u00a0\u00a0\u00a0\u00a0NRMSE = 0.13"]},
"layer":[{"transform":[{"filter":"isValid(datum.b)"}],"mark":{"type":"bar","color":"black","width":3,"clip":true},"encoding":{"x":{"field":"d","type":"quantitative","scale":{"domain":[-7,190.7],"nice":false,"zero":false},"axis":null},"y":{"field":"b","type":"quantitative","title":null,"scale":{"domain":[-5,156],"nice":false},"axis":{"values":[0,50,100]}}}},
{"transform":[{"filter":"isValid(datum.g)"}],"mark":{"type":"line","color":"#1ec81e","strokeWidth":2},"encoding":{"x":{"field":"d","type":"quantitative"},"y":{"field":"g","type":"quantitative","title":null}}}]},
{"width":280,"height":151,"data":{"name":"t127"},"title":{"text":"Tree: 127","subtitle":["\u200b\u00a0\u00a0\u00a0\u00a0DBH = 30.9\u00a0\u00a0\u00a0CPA = 45.4","\u200b\u00a0\u00a0\u00a0\u00a0NSE = 0.39\u00a0\u00a0\u00a0\u00a0RMSE = 16.23\u00a0\u00a0\u00a0\u00a0NRMSE = 0.21"]},
"layer":[{"transform":[{"filter":"isValid(datum.b)"}],"mark":{"type":"bar","color":"black","width":3,"clip":true},"encoding":{"x":{"field":"d","type":"quantitative","scale":{"domain":[-7,190.7],"nice":false,"zero":false},"axis":null},"y":{"field":"b","type":"quantitative","title":null,"scale":{"domain":[-5,156],"nice":false},"axis":{"values":[0,50,100],"labels":false}}}},
{"transform":[{"filter":"isValid(datum.g)"}],"mark":{"type":"line","color":"#1ec81e","strokeWidth":2},"encoding":{"x":{"field":"d","type":"quantitative"},"y":{"field":"g","type":"quantitative","title":null}}}]},
{"width":280,"height":151,"data":{"name":"t128"},"title":{"text":"Tree: 128","subtitle":["\u200b\u00a0\u00a0\u00a0\u00a0DBH = 22.6\u00a0\u00a0\u00a0CPA = 18.2","\u200b\u00a0\u00a0\u00a0\u00a0NSE = -0.64\u00a0\u00a0\u00a0\u00a0RMSE = 8.93\u00a0\u00a0\u00a0\u00a0NRMSE = 0.31"]},
"layer":[{"transform":[{"filter":"isValid(datum.b)"}],"mark":{"type":"bar","color":"black","width":3,"clip":true},"encoding":{"x":{"field":"d","type":"quantitative","scale":{"domain":[-7,190.7],"nice":false,"zero":false},"axis":null},"y":{"field":"b","type":"quantitative","title":null,"scale":{"domain":[-5,156],"nice":false},"axis":{"values":[0,50,100],"labels":false}}}},
{"transform":[{"filter":"isValid(datum.g)"}],"mark":{"type":"line","color":"#1ec81e","strokeWidth":2},"encoding":{"x":{"field":"d","type":"quantitative"},"y":{"field":"g","type":"quantitative","title":null}}}]},
{"width":280,"height":151,"data":{"name":"t133"},"title":{"text":"Tree: 133","subtitle":["\u200b\u00a0\u00a0\u00a0\u00a0DBH = 41.1\u00a0\u00a0\u00a0CPA = 54.9","\u200b\u00a0\u00a0\u00a0\u00a0NSE = -0.66\u00a0\u00a0\u00a0\u00a0RMSE = 34.15\u00a0\u00a0\u00a0\u00a0NRMSE = 0.23"]},
"layer":[{"transform":[{"filter":"isValid(datum.b)"}],"mark":{"type":"bar","color":"black","width":3,"clip":true},"encoding":{"x":{"field":"d","type":"quantitative","scale":{"domain":[-7,190.7],"nice":false,"zero":false},"axis":{"values":[0,31,61,92,123,153,184],"labelExpr":"datum.value==0?'May':datum.value==31?'Jun.':datum.value==61?'Jul.':datum.value==92?'Aug.':datum.value==123?'Sep.':datum.value==153?'Oct.':''"}},"y":{"field":"b","type":"quantitative","title":null,"scale":{"domain":[-5,156],"nice":false},"axis":{"values":[0,50,100]}}}},
{"transform":[{"filter":"isValid(datum.g)"}],"mark":{"type":"line","color":"#1ec81e","strokeWidth":2},"encoding":{"x":{"field":"d","type":"quantitative","title":null},"y":{"field":"g","type":"quantitative","title":null}}}]},
{"width":280,"height":151,"data":{"name":"t190"},"title":{"text":"Tree: 190","subtitle":["\u200b\u00a0\u00a0\u00a0\u00a0DBH = 42.7\u00a0\u00a0\u00a0CPA = 55.5","\u200b\u00a0\u00a0\u00a0\u00a0NSE = 0.70\u00a0\u00a0\u00a0\u00a0RMSE = 13.84\u00a0\u00a0\u00a0\u00a0NRMSE = 0.12"]},
"layer":[{"transform":[{"filter":"isValid(datum.b)"}],"mark":{"type":"bar","color":"black","width":3,"clip":true},"encoding":{"x":{"field":"d","type":"quantitative","scale":{"domain":[-7,190.7],"nice":false,"zero":false},"axis":{"values":[0,31,61,92,123,153,184],"labelExpr":"datum.value==0?'May':datum.value==31?'Jun.':datum.value==61?'Jul.':datum.value==92?'Aug.':datum.value==123?'Sep.':datum.value==153?'Oct.':''"}},"y":{"field":"b","type":"quantitative","title":null,"scale":{"domain":[-5,156],"nice":false},"axis":{"values":[0,50,100],"labels":false}}}},
{"transform":[{"filter":"isValid(datum.g)"}],"mark":{"type":"line","color":"#1ec81e","strokeWidth":2},"encoding":{"x":{"field":"d","type":"quantitative","title":null},"y":{"field":"g","type":"quantitative","title":null}}}]},
{"width":280,"height":151,"data":{"name":"t194"},"title":{"text":"Tree: 194","subtitle":["\u200b\u00a0\u00a0\u00a0\u00a0DBH = 36.3\u00a0\u00a0\u00a0CPA = 50.4","\u200b\u00a0\u00a0\u00a0\u00a0NSE = 0.71\u00a0\u00a0\u00a0\u00a0RMSE = 12.59\u00a0\u00a0\u00a0\u00a0NRMSE = 0.15"]},
"layer":[{"transform":[{"filter":"isValid(datum.b)"}],"mark":{"type":"bar","color":"black","width":3,"clip":true},"encoding":{"x":{"field":"d","type":"quantitative","scale":{"domain":[-7,190.7],"nice":false,"zero":false},"axis":{"values":[0,31,61,92,123,153,184],"labelExpr":"datum.value==0?'May':datum.value==31?'Jun.':datum.value==61?'Jul.':datum.value==92?'Aug.':datum.value==123?'Sep.':datum.value==153?'Oct.':''"}},"y":{"field":"b","type":"quantitative","title":null,"scale":{"domain":[-5,156],"nice":false},"axis":{"values":[0,50,100],"labels":false}}}},
{"transform":[{"filter":"isValid(datum.g)"}],"mark":{"type":"line","color":"#1ec81e","strokeWidth":2},"encoding":{"x":{"field":"d","type":"quantitative","title":null},"y":{"field":"g","type":"quantitative","title":null}}}]}
],
"config":{
"font":"Liberation Sans",
"view":{"stroke":"black","strokeWidth":2},
"axis":{"domain":false,"grid":false,"ticks":true,"tickColor":"black","tickWidth":1.5,"tickSize":7,"labelColor":"#1a1a1a","labelFont":"Liberation Sans","title":null},
"axisY":{"labelFontSize":15,"labelPadding":4},
"axisX":{"labelFontSize":20,"labelAngle":-90,"labelOffset":20,"labelPadding":11,"labelOverlap":false,"labelBound":false,"labelFlush":false},
"title":{"anchor":"start","orient":"top","frame":"group","offset":-47,"dx":10,"fontSize":11,"fontWeight":"bold","color":"#5a5a5a","font":"Liberation Sans","subtitleFontSize":11,"subtitleFontWeight":"bold","subtitleColor":"#5a5a5a","subtitleFont":"Liberation Sans","subtitlePadding":2,"subtitleLineHeight":13}
}
}
